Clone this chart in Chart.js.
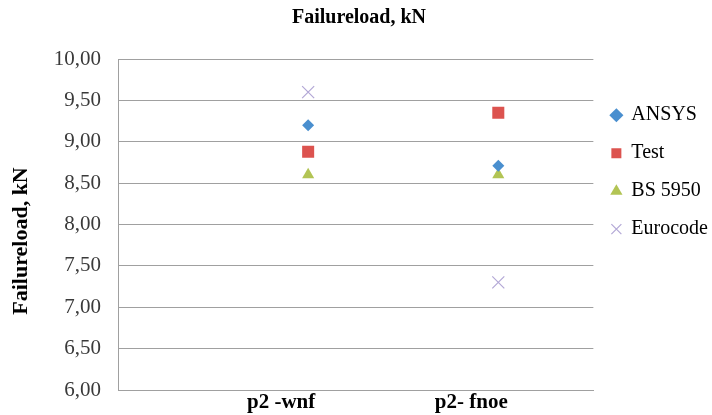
<!DOCTYPE html>
<html>
<head>
<meta charset="utf-8">
<script src="https://cdn.jsdelivr.net/npm/chart.js@4.4.1/dist/chart.umd.min.js"></script>
<style>
  html, body { margin: 0; padding: 0; background: #fff; }
  #wrap { width: 712px; height: 415px; }
</style>
</head>
<body>
<div id="wrap"><canvas id="loadChart"></canvas></div>
<script>
const categories = ['p2 -wnf', 'p2- fnoe'];
const ansys = [9.20, 8.71];
const test = [8.88, 9.35];
const bs5950 = [8.60, 8.60];
const eurocode = [9.60, 7.30];
const yTicks = [6.0, 6.5, 7.0, 7.5, 8.0, 8.5, 9.0, 9.5, 10.0];

const serif = "'Liberation Serif', 'Times New Roman', serif";

function toPoints(values) {
    return values.map((v, i) => ({ x: i + 1, y: v }));
}

const ctx = document.getElementById('loadChart').getContext('2d');
const chart = new Chart(ctx, {
    type: 'scatter',
    data: {
        datasets: [
            { label: 'ANSYS', data: toPoints(ansys), pointStyle: 'rectRot', pointRadius: 6,
              backgroundColor: '#4A8FCF', borderColor: '#4A8FCF', borderWidth: 0 },
            { label: 'Test', data: toPoints(test), pointStyle: 'rect', pointRadius: 8.5,
              backgroundColor: '#DC534F', borderColor: '#DC534F', borderWidth: 0 },
            { label: 'BS 5950', data: toPoints(bs5950), pointStyle: 'triangle', pointRadius: 7,
              backgroundColor: '#B2C454', borderColor: '#B2C454', borderWidth: 0 },
            { label: 'Eurocode', data: toPoints(eurocode), pointStyle: 'crossRot', pointRadius: 8.5,
              backgroundColor: '#B3A8D6', borderColor: '#B3A8D6', borderWidth: 1.2 }
        ]
    },
    options: {
        responsive: true,
        maintainAspectRatio: false,
        animation: false,
        layout: { padding: { left: 0, right: -6, top: 0, bottom: 0 } },
        plugins: {
            title: {
                display: true,
                text: 'Failureload, kN',
                color: '#000',
                font: { family: serif, size: 20, weight: 'bold' },
                padding: { top: 6, bottom: 29 }
            },
            legend: {
                position: 'right',
                align: 'start',
                padding: 0,
                title: { display: true, text: '', font: { size: 1 }, padding: { top: 86, bottom: 0 } },
                labels: {
                    usePointStyle: true,
                    boxWidth: 10,
                    boxHeight: 10,
                    padding: 18,
                    color: '#000',
                    font: { family: serif, size: 20 }
                }
            },
            tooltip: { enabled: false }
        },
        scales: {
            x: {
                type: 'linear',
                min: 0,
                max: 2.5,
                afterBuildTicks: axis => {
                    axis.ticks = categories.map((c, i) => ({ value: i + 1 }));
                },
                afterFit: axis => {
                    axis.height = 25;
                    axis.paddingLeft = 0;
                    axis.paddingRight = 0;
                },
                grid: { display: false, drawTicks: false },
                border: { display: true, color: '#A0A0A0', width: 1 },
                ticks: {
                    padding: 0,
                    labelOffset: -27,
                    color: '#000',
                    font: { family: serif, size: 21, weight: 'bold' },
                    callback: value => categories[value - 1]
                }
            },
            y: {
                min: 6,
                max: 10,
                afterBuildTicks: axis => {
                    axis.ticks = yTicks.map(v => ({ value: v }));
                },
                afterFit: axis => {
                    axis.width = 118;
                    axis.paddingTop = 0;
                    axis.paddingBottom = 0;
                },
                grid: { color: '#A0A0A0', lineWidth: 1, drawTicks: false },
                border: { display: true, color: '#A0A0A0', width: 1 },
                ticks: {
                    padding: 17,
                    color: '#3A3A3A',
                    font: { family: serif, size: 21 },
                    callback: value => value.toFixed(2).replace('.', ',')
                },
                title: {
                    display: true,
                    text: 'Failureload, kN      ',
                    color: '#000',
                    font: { family: serif, size: 22, weight: 'bold' },
                    padding: { top: 8, bottom: 0 }
                }
            }
        }
    }
});
</script>
</body>
</html>
